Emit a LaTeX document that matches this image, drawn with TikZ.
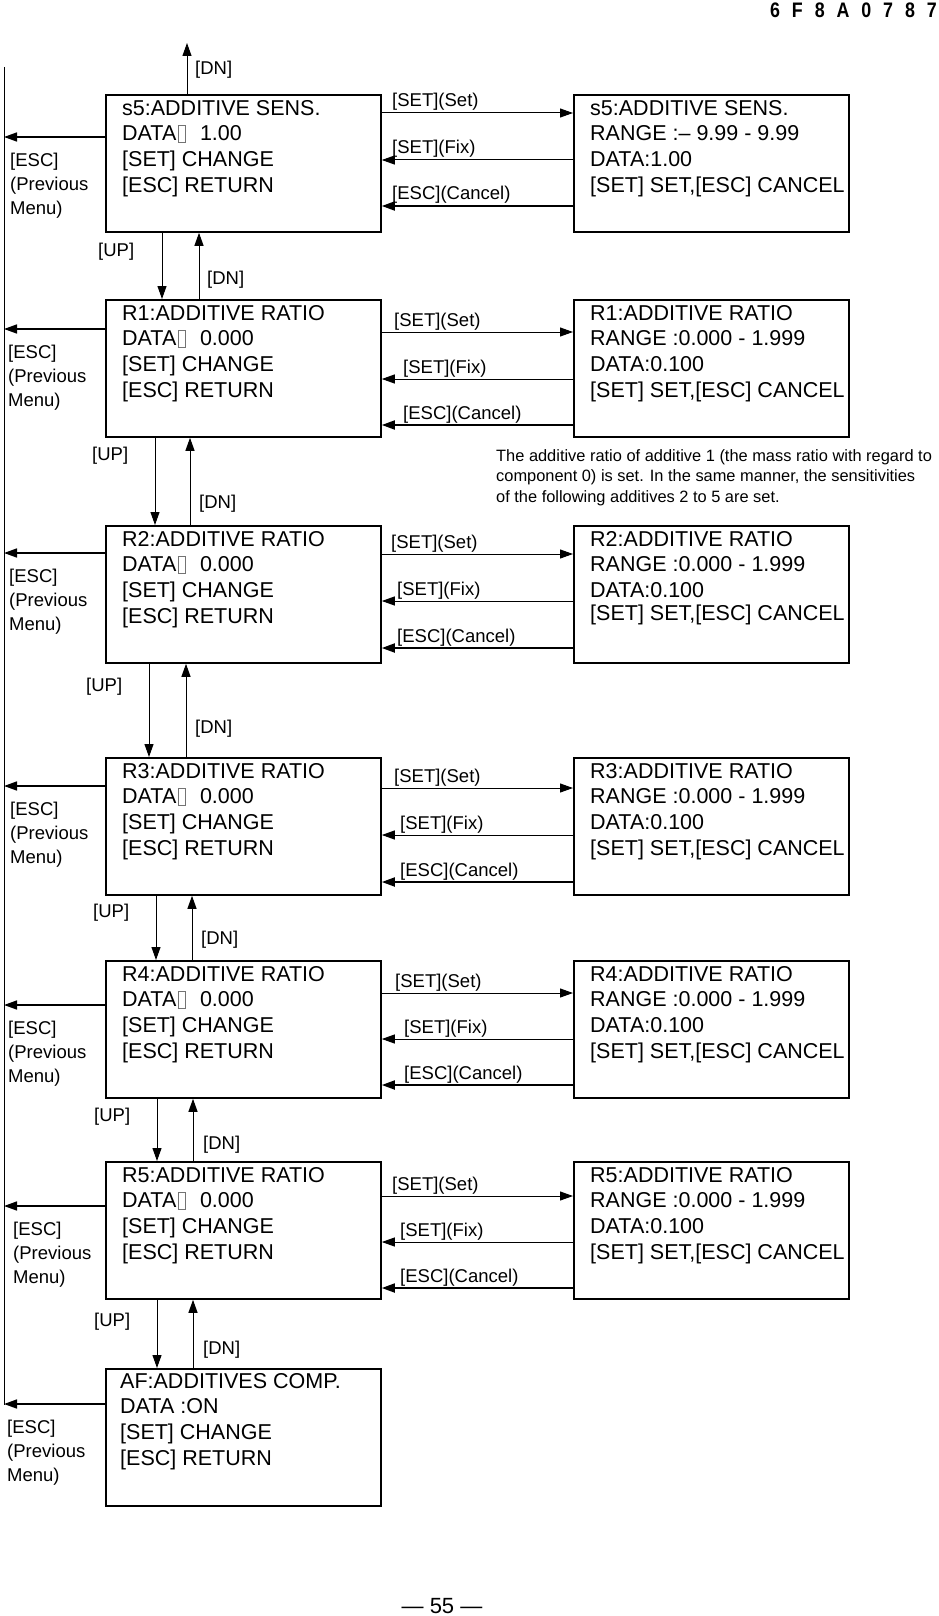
\documentclass[tikz,border=0pt]{standalone}
\usepackage{fontspec}
\usepackage{graphicx}
\setmainfont{Liberation Sans}
\usetikzlibrary{arrows.meta}
\newcommand\boxfont{\fontsize{21.5}{25.6}\selectfont}
\newcommand\keyfont{\fontsize{18.5}{24}\selectfont}
\newcommand\notefont{\fontsize{16.4}{20.7}\selectfont}
\newcommand\tofu{\hspace{1.5pt}\textcolor{black!55}{\fboxsep=0pt\fboxrule=0.6pt\raisebox{-1pt}{\fbox{\rule{0pt}{16pt}\hspace{7pt}}}}\hspace{8pt}}
\tikzset{
  menubox/.style={draw, line width=1.8pt, minimum width=275pt, minimum height=137pt, anchor=north west, inner sep=0pt},
  menutxt/.style={anchor=north west, inner sep=0pt, align=left, font=\boxfont},
  keylbl/.style={anchor=base west, inner sep=0pt, font=\keyfont},
  esclbl/.style={anchor=north west, inner sep=0pt, align=left, font=\keyfont},
  keyarr/.style={line width=1pt, -{Triangle[length=13pt,width=9pt]}},
  escarr/.style={keyarr, line width=1.6pt},
  canarr/.style={keyarr, line width=1.8pt},
}
\begin{document}
\begin{tikzpicture}[x=1pt,y=-1pt]
\useasboundingbox (0,0) rectangle (939,1616);
\node[anchor=base east, inner sep=0pt, font=\fontsize{21}{21}\bfseries\selectfont] (docno) at (937,18) {\scalebox{0.85}[1]{\spaceskip=14pt 6 F 8 A 0 7 8 7}};
\node[anchor=base, inner sep=0pt, font=\fontsize{22}{22}\selectfont] (pgno) at (442,1613) {— 55 —};
\coordinate (escT) at (4,67);
\coordinate (escB) at (4,1405);
\coordinate (dntip) at (187,43);
\draw[line width=1pt] (escT) -- (escB);

% s5
\node[menubox] (s5L) at (105,94) {};
\node[menutxt] (s5Lt) at ([shift={(17,6)}]s5L.north west) {s5:ADDITIVE SENS.\\DATA\tofu\ 1.00\\{}[SET] CHANGE\\{}[ESC] RETURN};
\node[menubox] (s5R) at (573,94) {};
\node[menutxt] (s5Rt) at ([shift={(17,6)}]s5R.north west) {s5:ADDITIVE SENS.\\RANGE :\textendash{} 9.99 - 9.99\\DATA:1.00\\{}[SET] SET,[ESC] CANCEL};
\draw[keyarr] ([xshift=82pt]s5L.north west) -- (dntip);
\node[keylbl] (s5top) at (195,75) {[DN]};
\draw[keyarr] ([yshift=-19pt]s5L.north east) -- ([yshift=-19pt]s5R.north west);
\draw[keyarr] ([yshift=-66pt]s5R.north west) -- ([yshift=-66pt]s5L.north east);
\draw[canarr] ([yshift=-112pt]s5R.north west) -- ([yshift=-112pt]s5L.north east);
\node[keylbl] (s5set) at (392,107) {[SET](Set)};
\node[keylbl] (s5fix) at (392,154) {[SET](Fix)};
\node[keylbl] (s5can) at (392,200) {[ESC](Cancel)};
\draw[escarr] ([yshift=-43pt]s5L.north west) -- ([yshift=-43pt]s5L.north west -| escT);
\node[esclbl] (s5esc) at (10,152.5) {[ESC]\\(Previous\\Menu)};

% R1
\node[menubox] (r1L) at (105,299) {};
\node[menutxt] (r1Lt) at ([shift={(17,6)}]r1L.north west) {R1:ADDITIVE RATIO\\DATA\tofu\ 0.000\\{}[SET] CHANGE\\{}[ESC] RETURN};
\node[menubox] (r1R) at (573,299) {};
\node[menutxt] (r1Rt) at ([shift={(17,6)}]r1R.north west) {R1:ADDITIVE RATIO\\RANGE :0.000 - 1.999\\DATA:0.100\\{}[SET] SET,[ESC] CANCEL};
\draw[keyarr] ([xshift=57pt]s5L.south west) -- ([xshift=57pt]r1L.north west);
\draw[keyarr] ([xshift=94pt]r1L.north west) -- ([xshift=94pt]s5L.south west);
\node[keylbl] (r1up) at (98,256) {[UP]};
\node[keylbl] (r1dn) at (207,284) {[DN]};
\draw[keyarr] ([yshift=-33pt]r1L.north east) -- ([yshift=-33pt]r1R.north west);
\draw[keyarr] ([yshift=-80pt]r1R.north west) -- ([yshift=-80pt]r1L.north east);
\draw[canarr] ([yshift=-126pt]r1R.north west) -- ([yshift=-126pt]r1L.north east);
\node[keylbl] (r1set) at (394,326) {[SET](Set)};
\node[keylbl] (r1fix) at (403,373) {[SET](Fix)};
\node[keylbl] (r1can) at (403,419) {[ESC](Cancel)};
\draw[escarr] ([yshift=-30pt]r1L.north west) -- ([yshift=-30pt]r1L.north west -| escT);
\node[esclbl] (r1esc) at (8,344.5) {[ESC]\\(Previous\\Menu)};
\node[anchor=north west, inner sep=0pt, align=left, font=\notefont] (note) at (496,449) {The additive ratio of additive 1 (the mass ratio with regard to\\component 0) is set. In the same manner, the sensitivities\\of the following additives 2 to 5 are set.};

% R2
\node[menubox] (r2L) at (105,525) {};
\node[menutxt] (r2Lt) at ([shift={(17,6)}]r2L.north west) {R2:ADDITIVE RATIO\\DATA\tofu\ 0.000\\{}[SET] CHANGE\\{}[ESC] RETURN};
\node[menubox] (r2R) at (573,525) {};
\node[menutxt] (r2Rt) at ([shift={(17,6)}]r2R.north west) {R2:ADDITIVE RATIO\\RANGE :0.000 - 1.999\\DATA:0.100\\[-3pt]{}[SET] SET,[ESC] CANCEL};
\draw[keyarr] ([xshift=50pt]r1L.south west) -- ([xshift=50pt]r2L.north west);
\draw[keyarr] ([xshift=85pt]r2L.north west) -- ([xshift=85pt]r1L.south west);
\node[keylbl] (r2up) at (92,460) {[UP]};
\node[keylbl] (r2dn) at (199,508) {[DN]};
\draw[keyarr] ([yshift=-29pt]r2L.north east) -- ([yshift=-29pt]r2R.north west);
\draw[keyarr] ([yshift=-76pt]r2R.north west) -- ([yshift=-76pt]r2L.north east);
\draw[canarr] ([yshift=-123pt]r2R.north west) -- ([yshift=-123pt]r2L.north east);
\node[keylbl] (r2set) at (391,548) {[SET](Set)};
\node[keylbl] (r2fix) at (397,595) {[SET](Fix)};
\node[keylbl] (r2can) at (397,642) {[ESC](Cancel)};
\draw[escarr] ([yshift=-28pt]r2L.north west) -- ([yshift=-28pt]r2L.north west -| escT);
\node[esclbl] (r2esc) at (9,568.5) {[ESC]\\(Previous\\Menu)};

% R3
\node[menubox] (r3L) at (105,757) {};
\node[menutxt] (r3Lt) at ([shift={(17,6)}]r3L.north west) {R3:ADDITIVE RATIO\\DATA\tofu\ 0.000\\{}[SET] CHANGE\\{}[ESC] RETURN};
\node[menubox] (r3R) at (573,757) {};
\node[menutxt] (r3Rt) at ([shift={(17,6)}]r3R.north west) {R3:ADDITIVE RATIO\\RANGE :0.000 - 1.999\\DATA:0.100\\{}[SET] SET,[ESC] CANCEL};
\draw[keyarr] ([xshift=44pt]r2L.south west) -- ([xshift=44pt]r3L.north west);
\draw[keyarr] ([xshift=81pt]r3L.north west) -- ([xshift=81pt]r2L.south west);
\node[keylbl] (r3up) at (86,691) {[UP]};
\node[keylbl] (r3dn) at (195,733) {[DN]};
\draw[keyarr] ([yshift=-31pt]r3L.north east) -- ([yshift=-31pt]r3R.north west);
\draw[keyarr] ([yshift=-78pt]r3R.north west) -- ([yshift=-78pt]r3L.north east);
\draw[canarr] ([yshift=-125pt]r3R.north west) -- ([yshift=-125pt]r3L.north east);
\node[keylbl] (r3set) at (394,782) {[SET](Set)};
\node[keylbl] (r3fix) at (400,829) {[SET](Fix)};
\node[keylbl] (r3can) at (400,876) {[ESC](Cancel)};
\draw[escarr] ([yshift=-29pt]r3L.north west) -- ([yshift=-29pt]r3L.north west -| escT);
\node[esclbl] (r3esc) at (10,801.5) {[ESC]\\(Previous\\Menu)};

% R4
\node[menubox] (r4L) at (105,960) {};
\node[menutxt] (r4Lt) at ([shift={(17,6)}]r4L.north west) {R4:ADDITIVE RATIO\\DATA\tofu\ 0.000\\{}[SET] CHANGE\\{}[ESC] RETURN};
\node[menubox] (r4R) at (573,960) {};
\node[menutxt] (r4Rt) at ([shift={(17,6)}]r4R.north west) {R4:ADDITIVE RATIO\\RANGE :0.000 - 1.999\\DATA:0.100\\{}[SET] SET,[ESC] CANCEL};
\draw[keyarr] ([xshift=51pt]r3L.south west) -- ([xshift=51pt]r4L.north west);
\draw[keyarr] ([xshift=87pt]r4L.north west) -- ([xshift=87pt]r3L.south west);
\node[keylbl] (r4up) at (93,917) {[UP]};
\node[keylbl] (r4dn) at (201,944) {[DN]};
\draw[keyarr] ([yshift=-33pt]r4L.north east) -- ([yshift=-33pt]r4R.north west);
\draw[keyarr] ([yshift=-79pt]r4R.north west) -- ([yshift=-79pt]r4L.north east);
\draw[canarr] ([yshift=-125pt]r4R.north west) -- ([yshift=-125pt]r4L.north east);
\node[keylbl] (r4set) at (395,987) {[SET](Set)};
\node[keylbl] (r4fix) at (404,1033) {[SET](Fix)};
\node[keylbl] (r4can) at (404,1079) {[ESC](Cancel)};
\draw[escarr] ([yshift=-45pt]r4L.north west) -- ([yshift=-45pt]r4L.north west -| escT);
\node[esclbl] (r4esc) at (8,1020.5) {[ESC]\\(Previous\\Menu)};

% R5
\node[menubox] (r5L) at (105,1161) {};
\node[menutxt] (r5Lt) at ([shift={(17,6)}]r5L.north west) {R5:ADDITIVE RATIO\\DATA\tofu\ 0.000\\{}[SET] CHANGE\\{}[ESC] RETURN};
\node[menubox] (r5R) at (573,1161) {};
\node[menutxt] (r5Rt) at ([shift={(17,6)}]r5R.north west) {R5:ADDITIVE RATIO\\RANGE :0.000 - 1.999\\DATA:0.100\\{}[SET] SET,[ESC] CANCEL};
\draw[keyarr] ([xshift=52pt]r4L.south west) -- ([xshift=52pt]r5L.north west);
\draw[keyarr] ([xshift=88pt]r5L.north west) -- ([xshift=88pt]r4L.south west);
\node[keylbl] (r5up) at (94,1121) {[UP]};
\node[keylbl] (r5dn) at (203,1149) {[DN]};
\draw[keyarr] ([yshift=-35pt]r5L.north east) -- ([yshift=-35pt]r5R.north west);
\draw[keyarr] ([yshift=-81pt]r5R.north west) -- ([yshift=-81pt]r5L.north east);
\draw[canarr] ([yshift=-127pt]r5R.north west) -- ([yshift=-127pt]r5L.north east);
\node[keylbl] (r5set) at (392,1190) {[SET](Set)};
\node[keylbl] (r5fix) at (400,1236) {[SET](Fix)};
\node[keylbl] (r5can) at (400,1282) {[ESC](Cancel)};
\draw[escarr] ([yshift=-45pt]r5L.north west) -- ([yshift=-45pt]r5L.north west -| escT);
\node[esclbl] (r5esc) at (13,1221.5) {[ESC]\\(Previous\\Menu)};

% AF
\node[menubox] (afL) at (105,1368) {};
\node[menutxt] (afLt) at ([shift={(15,5)}]afL.north west) {AF:ADDITIVES COMP.\\DATA :ON\\{}[SET] CHANGE\\{}[ESC] RETURN};
\draw[keyarr] ([xshift=52pt]r5L.south west) -- ([xshift=52pt]afL.north west);
\draw[keyarr] ([xshift=88pt]afL.north west) -- ([xshift=88pt]r5L.south west);
\node[keylbl] (afup) at (94,1326) {[UP]};
\node[keylbl] (afdn) at (203,1354) {[DN]};
\draw[escarr] ([yshift=-36pt]afL.north west) -- ([yshift=-36pt]afL.north west -| escT);
\node[esclbl] (afesc) at (7,1419.5) {[ESC]\\(Previous\\Menu)};
\end{tikzpicture}
\end{document}
